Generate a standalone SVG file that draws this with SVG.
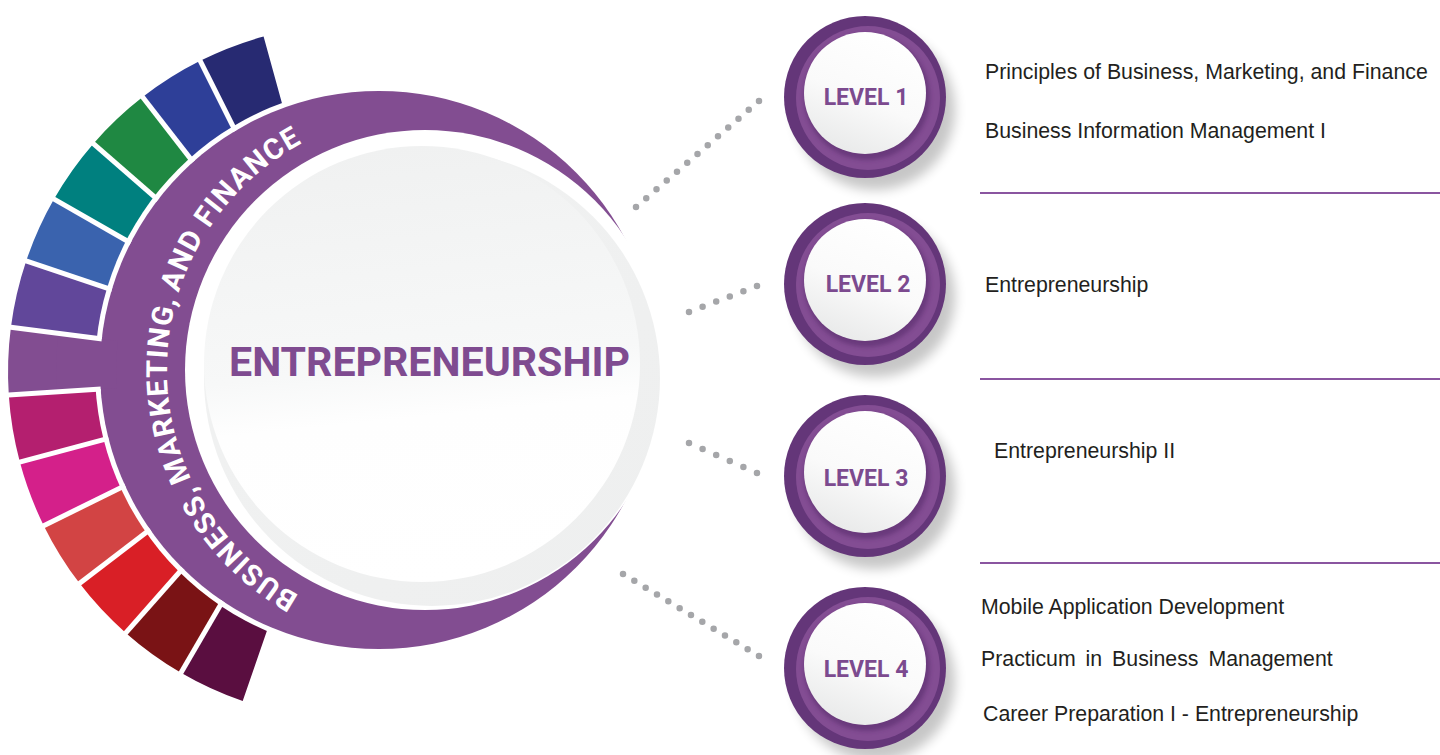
<svg xmlns="http://www.w3.org/2000/svg" xmlns:xlink="http://www.w3.org/1999/xlink" width="1440" height="755" viewBox="0 0 1440 755">
<style>
.div{stroke:#fff;stroke-width:5}
.conn{fill:none;stroke:#a5a6a9;stroke-width:6.5;stroke-linecap:round}
.course{font-family:"Liberation Sans",Arial,sans-serif;font-size:21.3px;fill:#231f20}
.rule{stroke:#8a55a0;stroke-width:2}
.lvl{font-family:Roboto,"Liberation Sans",sans-serif;font-weight:700;font-size:23px;fill:#7c4a8f;text-anchor:middle}
.ringtxt{font-family:Roboto,"Liberation Sans",sans-serif;font-weight:700;font-size:29px;fill:#fff;letter-spacing:1.2px}
.hubtxt{font-family:Roboto,"Liberation Sans",sans-serif;font-weight:700;font-size:41px;fill:#7f4b90}
</style>
<defs>
<linearGradient id="hubRim" x1="0" y1="0" x2="1" y2="1"><stop offset="0" stop-color="#f1f2f2"/><stop offset="1" stop-color="#eeefef"/></linearGradient>
<linearGradient id="hubInner" x1=".45" y1="0" x2=".55" y2="1"><stop offset="0" stop-color="#f0f1f1"/><stop offset=".5" stop-color="#f7f8f8"/><stop offset=".62" stop-color="#fefefe"/><stop offset="1" stop-color="#ffffff"/></linearGradient>
<linearGradient id="btnGrad" x1=".7" y1="0" x2=".3" y2="1"><stop offset="0" stop-color="#ffffff"/><stop offset=".55" stop-color="#fafafa"/><stop offset="1" stop-color="#e8e9e9"/></linearGradient>
<filter id="blur6" x="-30%" y="-30%" width="160%" height="160%"><feGaussianBlur stdDeviation="6"/></filter>
<filter id="blur2" x="-20%" y="-20%" width="140%" height="140%"><feGaussianBlur stdDeviation="2"/></filter>
<clipPath id="outsideRing"><path clip-rule="evenodd" d="M0 0H1440V755H0Z M100 370A279 279 0 1 0 658 370A279 279 0 1 0 100 370Z"/></clipPath>
<path id="ringPath" d="M299.13 595.21A258 258 0 0 1 302.29 143.05"/>
<g id="btn">
<circle cx="10" cy="13" r="80" fill="#000" opacity=".22" filter="url(#blur6)"/>
<circle r="81" fill="#643679"/>
<circle cx="3" cy="1" r="72" fill="#834d93"/>
<circle cx="2" cy="0" r="63" fill="#4b2360" opacity=".45" filter="url(#blur2)"/>
<circle cx="0" cy="-4" r="61" fill="url(#btnGrad)"/>
</g>
</defs>

<g id="color-arc">
<path fill="#5a0e40" d="M242.70 701.04A348 348 0 0 1 180.95 672.77L230.24 588.07A250 250 0 0 0 274.61 608.38Z"/>
<path fill="#7a1315" d="M180.95 672.77A348 348 0 0 1 125.79 632.97L190.62 559.48A250 250 0 0 0 230.24 588.07Z"/>
<path fill="#d91f26" d="M125.79 632.97A348 348 0 0 1 79.55 583.37L157.40 523.85A250 250 0 0 0 190.62 559.48Z"/>
<path fill="#d24444" d="M79.55 583.37A348 348 0 0 1 43.75 525.65L131.68 482.38A250 250 0 0 0 157.40 523.85Z"/>
<path fill="#d4208a" d="M43.75 525.65A348 348 0 0 1 19.86 462.07L114.52 436.71A250 250 0 0 0 131.68 482.38Z"/>
<path fill="#b41f6f" d="M19.86 462.07A348 348 0 0 1 8.77 395.06L106.55 388.57A250 250 0 0 0 114.52 436.71Z"/>
<path fill="#824d91" d="M8.77 395.06A348 348 0 0 1 10.90 327.18L108.08 339.80A250 250 0 0 0 106.55 388.57Z"/>
<path fill="#61479a" d="M10.90 327.18A348 348 0 0 1 26.18 261.00L119.06 292.26A250 250 0 0 0 108.08 339.80Z"/>
<path fill="#3a63ae" d="M26.18 261.00A348 348 0 0 1 54.02 199.05L139.06 247.76A250 250 0 0 0 119.06 292.26Z"/>
<path fill="#00807f" d="M54.02 199.05A348 348 0 0 1 93.36 143.69L167.32 207.98A250 250 0 0 0 139.06 247.76Z"/>
<path fill="#1f8842" d="M93.36 143.69A348 348 0 0 1 142.63 97.08L202.72 174.50A250 250 0 0 0 167.32 207.98Z"/>
<path fill="#2e3f98" d="M142.63 97.08A348 348 0 0 1 200.18 60.84L244.06 148.46A250 250 0 0 0 202.72 174.50Z"/>
<path fill="#272a72" d="M200.18 60.84A348 348 0 0 1 263.59 36.49L289.61 130.97A250 250 0 0 0 244.06 148.46Z"/>
</g>

<g id="ring">
<circle cx="379" cy="370" r="284" fill="#fff"/>
<circle cx="379" cy="370" r="279" fill="#824d91"/>
<path fill="#824d91" d="M56.66 391.88A300 300 0 0 1 58.50 333.36L118.00 341.09A240 240 0 0 0 116.53 387.90Z"/>
<g clip-path="url(#outsideRing)">
<line class="div" x1="235.28" y1="579.42" x2="176.92" y2="679.68"/>
<line class="div" x1="197.23" y1="551.98" x2="120.50" y2="638.97"/>
<line class="div" x1="165.34" y1="517.77" x2="73.19" y2="588.23"/>
<line class="div" x1="140.66" y1="477.96" x2="36.58" y2="529.18"/>
<line class="div" x1="124.18" y1="434.12" x2="12.13" y2="464.14"/>
<line class="div" x1="116.53" y1="387.90" x2="0.78" y2="395.59"/>
<line class="div" x1="118.00" y1="341.09" x2="2.97" y2="326.15"/>
<line class="div" x1="128.54" y1="295.45" x2="18.59" y2="258.45"/>
<line class="div" x1="147.74" y1="252.73" x2="47.07" y2="195.08"/>
<line class="div" x1="174.87" y1="214.55" x2="87.32" y2="138.44"/>
<line class="div" x1="208.85" y1="182.40" x2="137.73" y2="90.76"/>
<line class="div" x1="248.54" y1="157.40" x2="196.60" y2="53.68"/>
</g>
<text class="ringtxt"><textPath xlink:href="#ringPath" href="#ringPath" startOffset="0">BUSINESS,</textPath></text>
<text class="ringtxt"><textPath xlink:href="#ringPath" href="#ringPath" startOffset="161">MARKETING,</textPath></text>
<text class="ringtxt"><textPath xlink:href="#ringPath" href="#ringPath" startOffset="352">AND</textPath></text>
<text class="ringtxt"><textPath xlink:href="#ringPath" href="#ringPath" startOffset="423">FINANCE</textPath></text>
</g>

<g id="hub">
<circle cx="425" cy="370" r="240" fill="#fff"/>
<circle cx="432" cy="378" r="228" fill="url(#hubRim)"/>
<circle cx="422" cy="364" r="218" fill="url(#hubInner)"/>
<text class="hubtxt" x="229" y="376" textLength="401" lengthAdjust="spacingAndGlyphs">ENTREPRENEURSHIP</text>
</g>

<g id="connectors">
<line class="conn" x1="636" y1="207" x2="759" y2="101" stroke-dasharray="0 13.53"/>
<line class="conn" x1="689" y1="312" x2="757" y2="286" stroke-dasharray="0 14.56"/>
<line class="conn" x1="689" y1="443" x2="757" y2="473" stroke-dasharray="0 14.86"/>
<line class="conn" x1="623" y1="574" x2="759" y2="656" stroke-dasharray="0 13.23"/>
</g>

<g id="level1"><use xlink:href="#btn" href="#btn" x="865" y="97"/><text class="lvl" x="866" y="105">LEVEL 1</text></g>
<g id="level2"><use xlink:href="#btn" href="#btn" x="865" y="284"/><text class="lvl" x="868" y="292">LEVEL 2</text></g>
<g id="level3"><use xlink:href="#btn" href="#btn" x="865" y="476"/><text class="lvl" x="866" y="486">LEVEL 3</text></g>
<g id="level4"><use xlink:href="#btn" href="#btn" x="865" y="668"/><text class="lvl" x="866" y="677">LEVEL 4</text></g>

<g id="courses">
<text class="course" x="985" y="79">Principles of Business, Marketing, and Finance</text>
<text class="course" x="985" y="138">Business Information Management I</text>
<line class="rule" x1="980" y1="193" x2="1440" y2="193"/>
<text class="course" x="985" y="292">Entrepreneurship</text>
<line class="rule" x1="980" y1="379" x2="1440" y2="379"/>
<text class="course" x="994" y="458">Entrepreneurship II</text>
<line class="rule" x1="980" y1="563" x2="1440" y2="563"/>
<text class="course" x="981" y="614">Mobile Application Development</text>
<text class="course" x="981" y="666" word-spacing="4">Practicum in Business Management</text>
<text class="course" x="983" y="721">Career Preparation I - Entrepreneurship</text>
</g>
</svg>
